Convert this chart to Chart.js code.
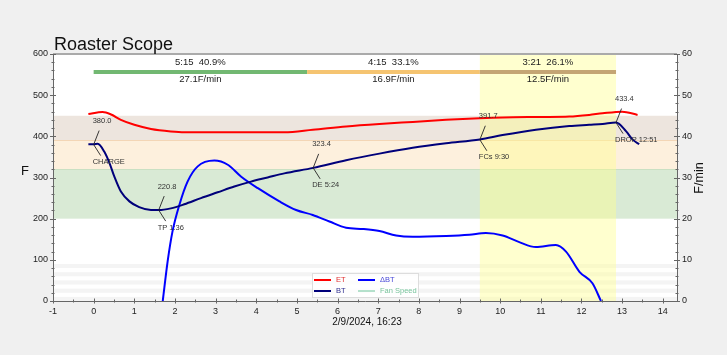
<!DOCTYPE html>
<html>
<head>
<meta charset="utf-8">
<script src="https://cdn.jsdelivr.net/npm/chart.js@4/dist/chart.umd.min.js"></script>
<style>
html,body{margin:0;padding:0;background:#f0f0f0;}
#wrap{width:727px;height:355px;}
</style>
</head>
<body>
<div id="wrap"><canvas id="c" width="727" height="355"></canvas></div>
<script>
// ---------- data ----------
const btTime = [-0.13, 0.0, 0.1, 0.26, 0.39, 0.51, 0.67, 0.88, 1.12, 1.41, 1.6, 1.9, 2.23, 2.64, 3.05, 3.46, 3.87, 4.28, 4.69, 5.4, 6.21, 7.03, 7.85, 8.67, 9.5, 10.06, 10.88, 11.7, 12.19, 12.52, 12.85, 13.1, 13.26, 13.42];
const btTemp = [381, 381, 382, 363, 335, 302, 266, 242, 228, 221, 220.8, 225, 235, 250, 264, 278, 290, 300, 310, 323.4, 342, 358, 372, 383, 392.5, 403, 416, 425, 428, 430, 433.4, 412, 392, 381];

const etTime = [-0.13, 0.22, 0.43, 0.67, 1.0, 1.41, 1.9, 2.23, 3.0, 4.0, 4.69, 5.39, 6.21, 7.03, 7.85, 8.67, 9.49, 10.06, 11.0, 11.7, 12.19, 12.52, 13.0, 13.38];
const etTemp = [454, 459, 453, 440, 428, 418, 412, 410, 410, 410, 410, 416, 424, 430, 435, 440, 444, 446, 447, 448, 452, 456, 460, 452];

const rorTime = [1.70, 1.82, 1.94, 2.11, 2.31, 2.56, 2.97, 3.3, 3.63, 4.04, 4.57, 4.98, 5.39, 5.8, 6.21, 6.62, 7.03, 7.44, 7.85, 8.67, 9.24, 9.65, 10.06, 10.47, 10.88, 11.37, 11.62, 11.95, 12.27, 12.48];
const rorVal  = [0, 9.6, 16.9, 23.4, 29, 32.7, 34.1, 33.1, 30.2, 27.4, 24.2, 22.1, 20.9, 19.3, 17.8, 17.5, 17.0, 15.9, 15.6, 15.8, 16.1, 16.5, 15.9, 14.3, 13.1, 13.6, 12.0, 7.1, 4.3, 0];

const fanTime = [];
const fanVal = [];

const eventNames = ['CHARGE', 'TP 1:36', 'DE 5:24', 'FCs 9:30', 'DROP 12:51'];
const eventTimes = [0, 1.6, 5.4, 9.5, 12.85];
const eventTemps = [380.0, 220.8, 323.4, 391.7, 433.4];

const phaseStarts = [0, 5.25, 9.5];
const phaseEnds = [5.25, 9.5, 12.85];
const phaseTimes = ['5:15', '4:15', '3:21'];
const phasePcts = ['40.9%', '33.1%', '26.1%'];
const phaseRates = ['27.1F/min', '16.9F/min', '12.5F/min'];

const bandLows = [390, 320, 200];
const bandHighs = [450, 390, 320];
const stripeLows = [0, 20, 40, 60, 80];
const stripeHighs = [10, 30, 50, 70, 90];

const xTicks = [-1,0,1,2,3,4,5,6,7,8,9,10,11,12,13,14];
const titleText = 'Roaster Scope';
const dateText = '2/9/2024, 16:23';

// ---------- styles ----------
const FONT = '"Liberation Sans", Arial, Helvetica, sans-serif';
const bandColors = ['#ede5de', '#fdf0dd', '#d9ead5'];
const bandEdgeColors = ['rgba(0,0,0,0)', '#f3d6b6', '#c9e0c3'];
const phaseColors = ['#72b872', '#f5c471', '#c4a574'];

function zip(xs, ys){ return xs.map((x,i)=>({x:x, y:ys[i]})); }

const bgPlugin = {
  id:'bg',
  beforeDraw(chart){
    const {ctx, chartArea:a, scales} = chart;
    const x = scales.x, y = scales.y, y1 = scales.y1;
    ctx.save();
    ctx.fillStyle = '#f0f0f0';
    ctx.fillRect(0,0,chart.width,chart.height);
    ctx.fillStyle = '#ffffff';
    ctx.fillRect(a.left,a.top,a.right-a.left,a.bottom-a.top);
    // stripes
    ctx.fillStyle = '#f4f4f4';
    stripeLows.forEach((lo,i)=>{
      const t = y1.getPixelForValue(stripeHighs[i]/10*1), b = y1.getPixelForValue(lo/10);
      ctx.fillRect(a.left, t, a.right-a.left, b-t);
    });
    // bands
    bandLows.forEach((lo,i)=>{
      const t = y.getPixelForValue(bandHighs[i]), b = y.getPixelForValue(lo);
      ctx.fillStyle = bandColors[i];
      ctx.fillRect(a.left, t, a.right-a.left, b-t);
    });
    bandLows.forEach((lo,i)=>{
      const t = Math.round(y.getPixelForValue(bandHighs[i]))+0.5;
      ctx.strokeStyle = bandEdgeColors[i];
      ctx.lineWidth = 1;
      ctx.beginPath(); ctx.moveTo(a.left,t); ctx.lineTo(a.right,t); ctx.stroke();
    });
    // yellow development zone
    const fx0 = x.getPixelForValue(eventTimes[3]), fx1 = x.getPixelForValue(eventTimes[4]);
    ctx.fillStyle = 'rgba(255,255,140,0.42)';
    ctx.fillRect(fx0, a.top, fx1-fx0, a.bottom-a.top);
    // top border
    ctx.strokeStyle = '#aaaaaa';
    ctx.lineWidth = 2;
    ctx.beginPath(); ctx.moveTo(a.left, a.top); ctx.lineTo(a.right, a.top); ctx.stroke();
    // phases
    ctx.lineWidth = 4;
    phaseStarts.forEach((s,i)=>{
      const px0 = x.getPixelForValue(s), px1 = x.getPixelForValue(phaseEnds[i]);
      ctx.strokeStyle = phaseColors[i];
      ctx.beginPath(); ctx.moveTo(px0, 72); ctx.lineTo(px1, 72); ctx.stroke();
      const cx = (px0+px1)/2;
      ctx.fillStyle = '#222';
      ctx.font = '9.5px ' + FONT;
      ctx.textAlign = 'center'; ctx.textBaseline = 'middle';
      ctx.fillText(phaseTimes[i] + '  ' + phasePcts[i], cx, 62.5);
      ctx.fillText(phaseRates[i], cx, 79.5);
    });
    ctx.restore();
  },
  afterDatasetsDraw(chart){
    const {ctx, chartArea:a, scales} = chart;
    const x = scales.x, y = scales.y, y1 = scales.y1;
    ctx.save();
    // event annotations
    ctx.font = '7.5px ' + FONT;
    ctx.textAlign = 'left'; ctx.textBaseline = 'middle';
    ctx.strokeStyle = '#222'; ctx.lineWidth = 0.9;
    eventTimes.forEach((t,i)=>{
      const px = x.getPixelForValue(t), py = y.getPixelForValue(eventTemps[i]);
      ctx.beginPath();
      ctx.moveTo(px+5.5, py-14); ctx.lineTo(px, py); ctx.lineTo(px+7, py+11);
      ctx.stroke();
      ctx.fillStyle = '#333';
      ctx.fillText(eventTemps[i].toFixed(1), px-1, py-23.5);
      ctx.fillText(eventNames[i], px-1, py+17.5);
    });
    // ticks
    ctx.strokeStyle = '#666'; ctx.lineWidth = 1;
    ctx.beginPath();
    for (let v=-1; v<=14.001; v+=0.5){
      const px = Math.round(x.getPixelForValue(v))+0.5;
      const major = Math.abs(v-Math.round(v))<1e-6;
      const h = major?2.5:1.5;
      ctx.moveTo(px, a.bottom-h); ctx.lineTo(px, a.bottom+h);
    }
    for (let v=0; v<=600; v+=20){
      const py = Math.round(y.getPixelForValue(v))+0.5;
      const major = v%100===0;
      const h = major?3:1.5;
      ctx.moveTo(a.left-h, py); ctx.lineTo(a.left+h, py);
    }
    for (let v=0; v<=60; v+=2){
      const py = Math.round(y1.getPixelForValue(v))+0.5;
      const major = v%10===0;
      const h = major?3:1.5;
      ctx.moveTo(a.right-h, py); ctx.lineTo(a.right+h, py);
    }
    ctx.stroke();
    // titles
    ctx.fillStyle = '#111';
    ctx.textAlign = 'left'; ctx.textBaseline = 'alphabetic';
    ctx.font = '18px ' + FONT;
    ctx.fillText(titleText, 54, 50);
    ctx.font = '13px ' + FONT;
    ctx.textAlign = 'center'; ctx.textBaseline = 'middle';
    ctx.fillText('F', 25, 171);
    ctx.font = '10px ' + FONT;
    ctx.fillText(dateText, (a.left+a.right)/2 + 2, 322.5);
    ctx.save();
    ctx.translate(700, 178);
    ctx.rotate(-Math.PI/2);
    ctx.font = '12.5px ' + FONT;
    ctx.fillText('F/min', 0, 0);
    ctx.restore();
    // legend
    ctx.fillStyle = 'rgba(255,255,255,0.8)';
    ctx.strokeStyle = '#dddddd'; ctx.lineWidth = 1;
    ctx.fillRect(312.5, 273.5, 106, 24);
    ctx.strokeRect(312.5, 273.5, 106, 24);
    const ds = chart.data.datasets;
    const spots = [[314, 280],[314, 291],[358, 280],[358, 291]];
    const order = [0,1,2,3];
    ctx.font = '7.5px ' + FONT;
    ctx.textAlign = 'left'; ctx.textBaseline = 'middle';
    order.forEach((di,k)=>{
      const d = ds[di]; const [lx, ly] = spots[k];
      ctx.strokeStyle = d.borderColor; ctx.lineWidth = di===3?1:2;
      ctx.beginPath(); ctx.moveTo(lx, ly); ctx.lineTo(lx+17, ly); ctx.stroke();
      ctx.fillStyle = d.legendText;
      ctx.fillText(d.label, lx+22, ly);
    });
    ctx.restore();
  }
};

const chart = new Chart(document.getElementById('c'), {
  type:'line',
  data:{
    datasets:[
      {label:'ET', data:zip(etTime, etTemp), borderColor:'#ff0000', legendText:'#e03030', borderWidth:2, pointRadius:0, cubicInterpolationMode:'monotone', yAxisID:'y'},
      {label:'BT', data:zip(btTime, btTemp), borderColor:'#00007a', legendText:'#303090', borderWidth:2, pointRadius:0, cubicInterpolationMode:'monotone', yAxisID:'y'},
      {label:'\u0394BT', data:zip(rorTime, rorVal), borderColor:'#0000ff', legendText:'#4848d8', borderWidth:2, pointRadius:0, cubicInterpolationMode:'monotone', yAxisID:'y1'},
      {label:'Fan Speed', data:zip(fanTime, fanVal), borderColor:'#6cc49a', legendText:'#78c49c', borderWidth:1, pointRadius:0, yAxisID:'y1'}
    ]
  },
  options:{
    responsive:false, animation:false, devicePixelRatio:1,
    layout:{padding:{top:54, left:0, right:0, bottom:0}},
    plugins:{legend:{display:false}, title:{display:false}, tooltip:{enabled:false}},
    scales:{
      x:{type:'linear', min:-1, max:14.35,
        afterBuildTicks(s){ s.ticks = xTicks.map(v=>({value:v})); },
        afterFit(s){ s.height = 54; },
        ticks:{includeBounds:false, autoSkip:false, maxRotation:0, padding:5, color:'#222', font:{size:9, family:FONT}},
        grid:{display:false, drawTicks:false}, border:{display:true, color:'#666', width:1}},
      y:{position:'left', min:0, max:600,
        afterFit(s){ s.width = 53; },
        ticks:{stepSize:100, padding:5, color:'#222', font:{size:9, family:FONT}},
        grid:{display:false, drawTicks:false}, border:{display:true, color:'#666', width:1}},
      y1:{position:'right', min:0, max:60,
        afterFit(s){ s.width = 50; },
        ticks:{stepSize:10, padding:5, color:'#222', font:{size:9, family:FONT}},
        grid:{display:false, drawTicks:false}, border:{display:true, color:'#666', width:1}}
    }
  },
  plugins:[bgPlugin]
});
</script>
</body>
</html>
